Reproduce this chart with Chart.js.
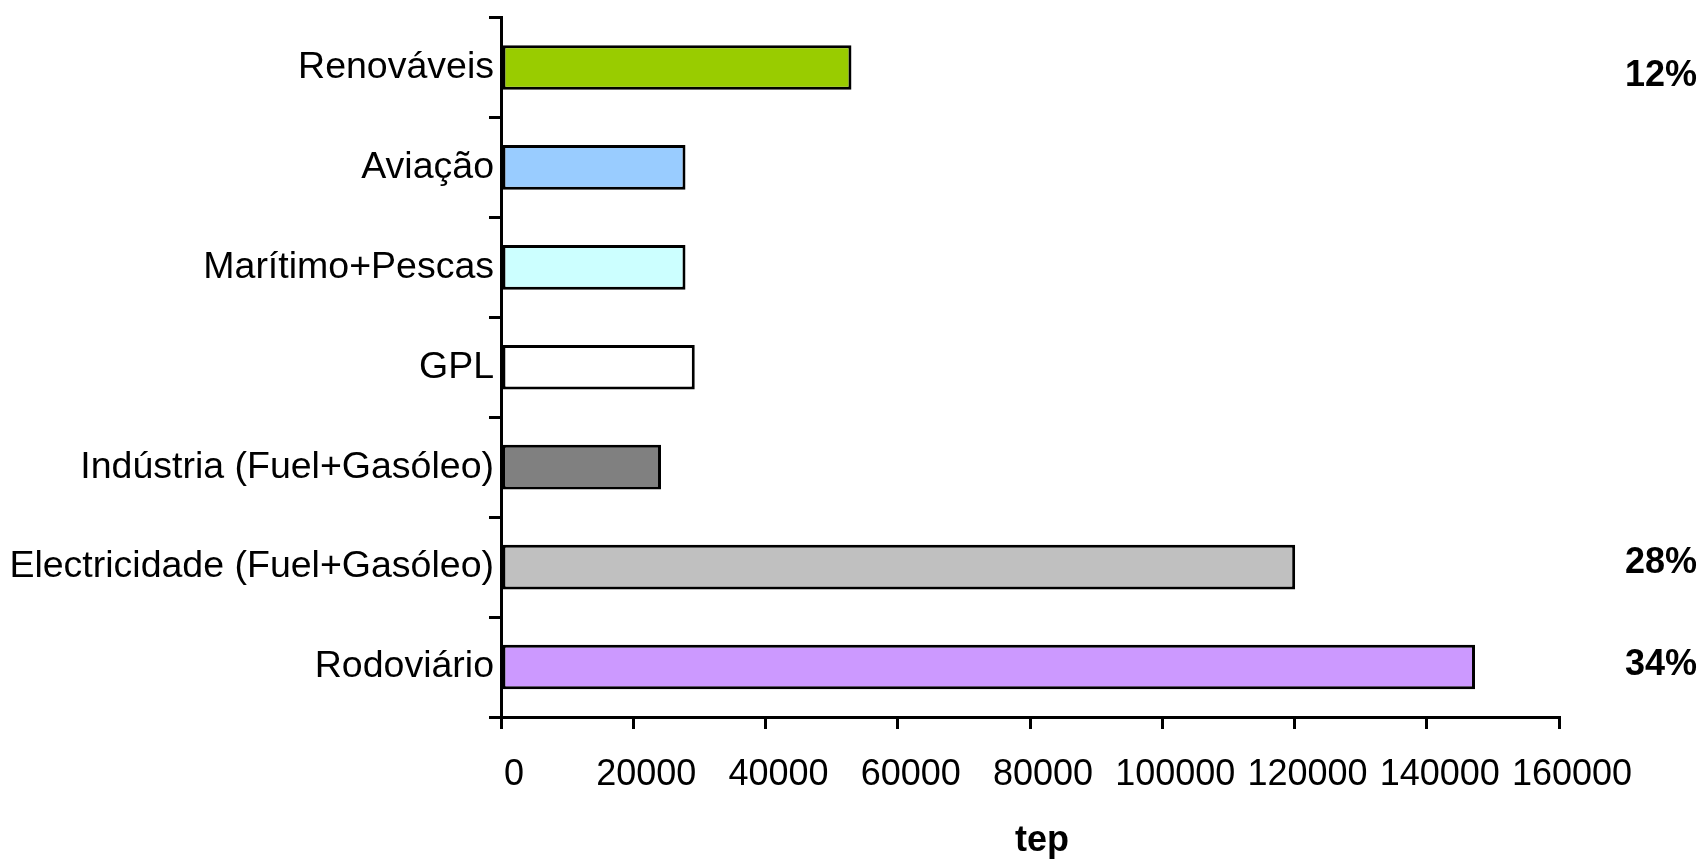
<!DOCTYPE html>
<html>
<head>
<meta charset="utf-8">
<script src="https://cdn.jsdelivr.net/npm/chart.js@4.4.1/dist/chart.umd.min.js"></script>
<style>
  html, body { margin: 0; padding: 0; background: #ffffff; }
  #wrap { width: 1706px; height: 860px; }
</style>
</head>
<body>
<div id="wrap"><canvas id="chart" width="1706" height="860"></canvas></div>
<script>
// Consumo de energia por sector (tep)
const categories = [
  'Renováveis',
  'Aviação',
  'Marítimo+Pescas',
  'GPL',
  'Indústria (Fuel+Gasóleo)',
  'Electricidade (Fuel+Gasóleo)',
  'Rodoviário'
];
const values = [53000, 27900, 27900, 29300, 24200, 120100, 147300];
const shares = ['12%', '', '', '', '', '28%', '34%'];
const barColors = ['#99CC00', '#99CCFF', '#CCFFFF', '#FFFFFF', '#808080', '#C0C0C0', '#CC99FF'];
const xTicks = [0, 20000, 40000, 60000, 80000, 100000, 120000, 140000, 160000];
const axisTitle = 'tep';

const FONT = "'Liberation Sans', Arial, sans-serif";
// small vertical nudges of the share labels relative to their bar
const shareNudge = [9, 0, 0, 0, 0, -4, -2];

// Share percentages at the right edge, and the value-axis title under the tick labels
const annotations = {
  id: 'annotations',
  afterDraw(chart) {
    const ctx = chart.ctx;
    const x = chart.scales.x;
    const y = chart.scales.y;
    ctx.save();
    ctx.font = 'bold 36px ' + FONT;
    ctx.fillStyle = '#000';
    ctx.textAlign = 'right';
    ctx.textBaseline = 'middle';
    shares.forEach((s, i) => {
      if (s) ctx.fillText(s, 1697, y.getPixelForValue(i) + shareNudge[i]);
    });
    ctx.textAlign = 'center';
    ctx.fillText(axisTitle, (x.left + x.right) / 2 + 12, x.bottom - 19);
    ctx.restore();
  }
};

new Chart(document.getElementById('chart'), {
  type: 'bar',
  data: {
    labels: categories,
    datasets: [{
      data: values,
      backgroundColor: barColors,
      borderColor: '#000000',
      borderWidth: 3,
      borderSkipped: false,
      barPercentage: 0.447,
      categoryPercentage: 1
    }]
  },
  options: {
    indexAxis: 'y',
    responsive: false,
    animation: false,
    layout: { padding: { top: 13, right: 147, bottom: 0, left: 0 } },
    plugins: {
      legend: { display: false },
      tooltip: { enabled: false }
    },
    scales: {
      x: {
        min: 0,
        max: 160000,
        afterBuildTicks(scale) {
          scale.ticks = xTicks.map(v => ({ value: v }));
        },
        afterFit(scale) { scale.height = 143; },
        border: { display: true, color: '#000', width: 3 },
        grid: {
          drawOnChartArea: false,
          drawTicks: true,
          tickLength: 12,
          color: '#000',
          lineWidth: 3
        },
        ticks: {
          color: '#000',
          font: { family: FONT, size: 36 },
          padding: 24,
          labelOffset: 13,
          maxRotation: 0,
          autoSkip: false,
          callback: (v) => String(v)
        }
      },
      y: {
        afterFit(scale) { scale.width = 501; },
        border: { display: true, color: '#000', width: 3 },
        grid: {
          offset: true,
          drawOnChartArea: false,
          drawTicks: true,
          tickLength: 12,
          color: '#000',
          lineWidth: 3
        },
        ticks: {
          color: '#000',
          font: { family: FONT, size: 37.5 },
          padding: -5,
          autoSkip: false
        }
      }
    }
  },
  plugins: [annotations]
});
</script>
</body>
</html>
